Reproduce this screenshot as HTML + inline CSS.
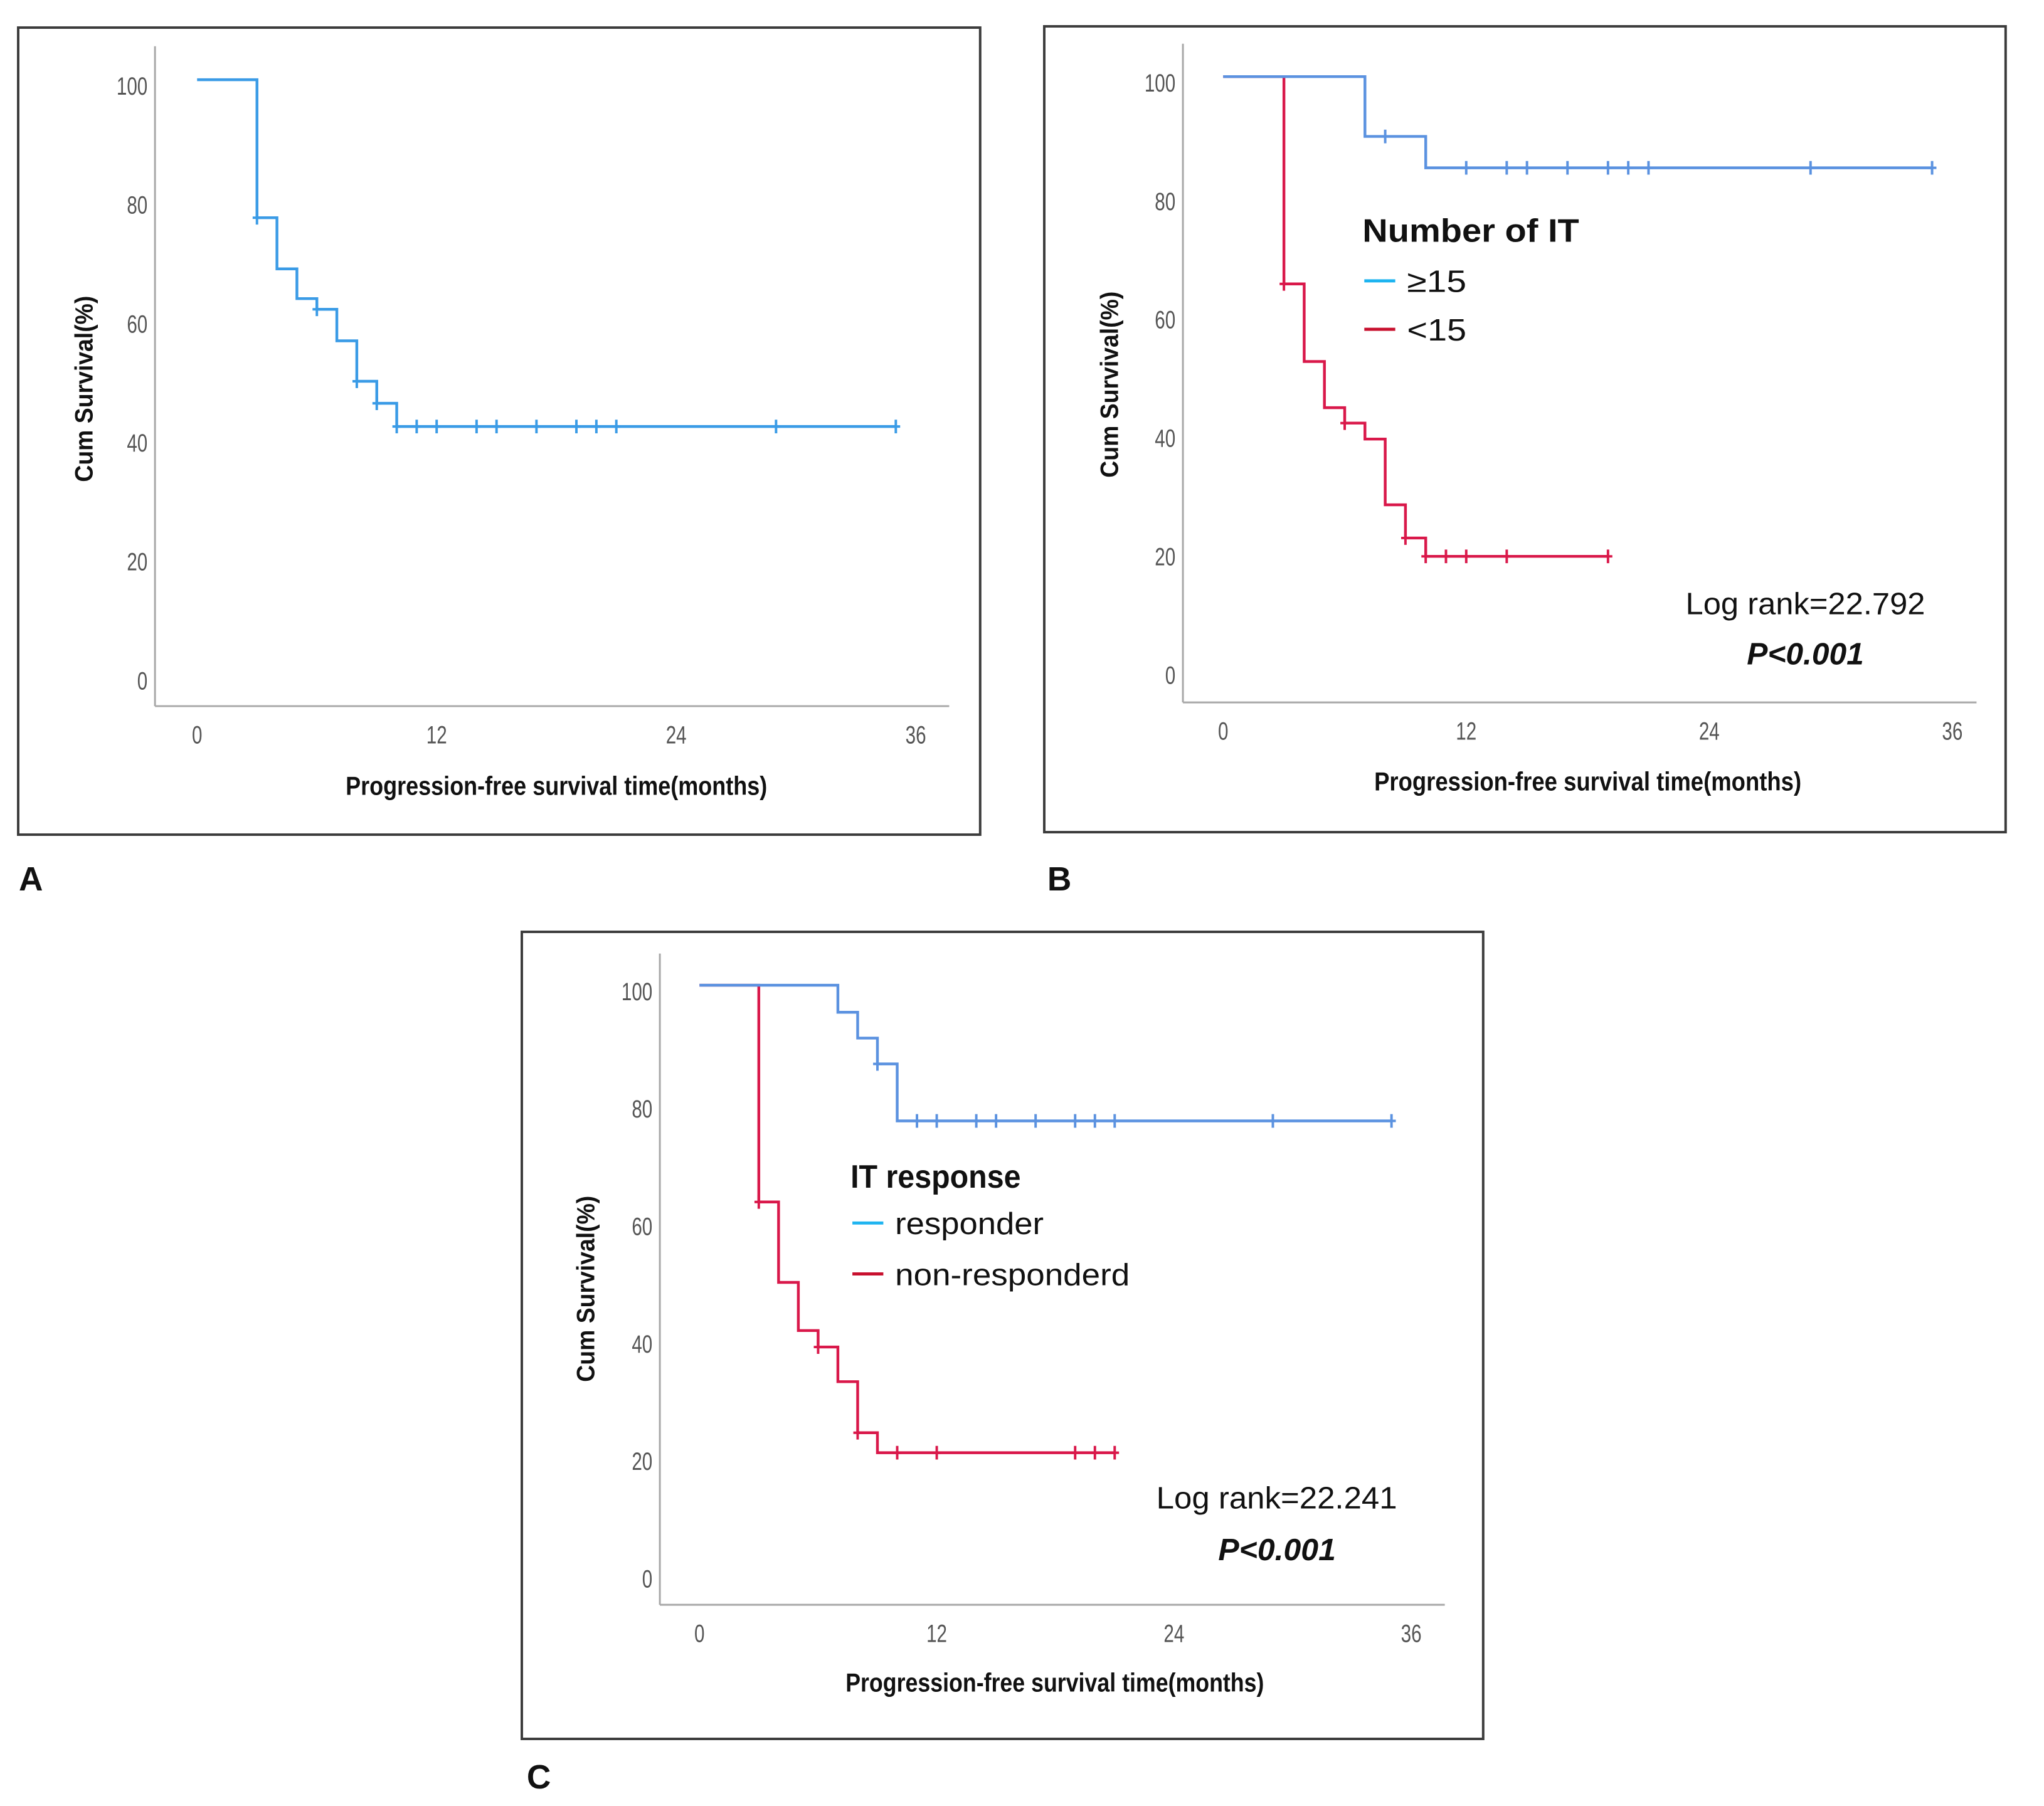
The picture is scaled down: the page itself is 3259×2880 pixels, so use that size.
<!DOCTYPE html>
<html><head><meta charset="utf-8">
<style>
html,body{margin:0;padding:0;background:#fff;}
svg{display:block;}
text{font-family:"Liberation Sans",sans-serif;}
</style></head>
<body>
<svg id="fig" width="3259" height="2880" viewBox="0 0 3259 2880" xmlns="http://www.w3.org/2000/svg"></svg>
<script>
// ---------- DATA ----------
const xTicks = [0, 12, 24, 36];
const yTicks = [0, 20, 40, 60, 80, 100];

// Panel A: overall
const aTimes = [0, 3, 4, 5, 6, 7, 8, 9, 10];
const aSurv  = [100, 76.8, 68.2, 63.2, 61.4, 56.1, 49.3, 45.6, 41.7];
const aCens  = [3, 6, 8, 9, 10, 11, 12, 14, 15, 17, 19, 20, 21, 29, 35];

// Panel B: Number of IT
const bHighTimes = [0, 7, 10];
const bHighSurv  = [100, 89.9, 84.6];
const bHighCens  = [8, 12, 14, 15, 17, 19, 20, 21, 29, 35];
const bLowTimes  = [0, 3, 4, 5, 6, 7, 8, 9, 10];
const bLowSurv   = [100, 65, 51.9, 44.1, 41.5, 38.8, 27.7, 22.1, 19];
const bLowCens   = [3, 6, 9, 10, 11, 12, 14, 19];

// Panel C: IT response
const cRespTimes = [0, 7, 8, 9, 10];
const cRespSurv  = [100, 95.4, 91, 86.6, 76.9];
const cRespCens  = [9, 11, 12, 14, 15, 17, 19, 20, 21, 29, 35];
const cNonTimes  = [0, 3, 4, 5, 6, 7, 8, 9];
const cNonSurv   = [100, 63.1, 49.4, 41.2, 38.4, 32.5, 23.8, 20.4];
const cNonCens   = [3, 6, 8, 10, 12, 19, 20, 21];

// ---------- DRAWING ----------
const NS = "http://www.w3.org/2000/svg";
const svg = document.getElementById('fig');
function mk(tag, attrs, parent, txt) {
  const e = document.createElementNS(NS, tag);
  for (const k in attrs) e.setAttribute(k, attrs[k]);
  if (txt !== undefined) e.textContent = txt;
  (parent || svg).appendChild(e);
  return e;
}
function survAt(times, surv, t) {
  let v = surv[0];
  for (let i = 0; i < times.length; i++) if (times[i] <= t) v = surv[i];
  return v;
}

function panel(p) {
  const g = mk('g', {transform: `translate(${p.fx},${p.fy}) scale(0.987,0.99) translate(${-p.fx},${-p.fy})`});
  
  
  const fr = mk('rect', {x: p.fx, y: p.fy, width: p.fw, height: p.fh, fill: 'none', stroke: '#3c3c3c', 'stroke-width': 4}, g);
  
  
  const X = t => p.x0 + t * p.xs;
  const Y = v => p.y100 + (100 - v) * p.ys;
  const ay = mk('line', {x1: p.ax, y1: p.atop, x2: p.ax, y2: p.axy, stroke: '#a8a8a8', 'stroke-width': 3}, g);
  
  
  const ax = mk('line', {x1: p.ax, y1: p.axy, x2: p.aright, y2: p.axy, stroke: '#a8a8a8', 'stroke-width': 3}, g);
  
  
  yTicks.forEach(v => {
    const t = mk('text', {x: p.ax - 12, y: Y(v) + 24, 'font-size': 40, fill: '#555', 'text-anchor': 'end', transform: `translate(${p.ax - 12},0) scale(0.75,1) translate(${-(p.ax - 12)},0)`}, g, String(v));
    
    
  });
  xTicks.forEach(v => {
    const t = mk('text', {x: X(v), y: p.axy + 60, 'font-size': 40, fill: '#555', 'text-anchor': 'middle', transform: `translate(${X(v)},0) scale(0.75,1) translate(${-X(v)},0)`}, g, String(v));
    
    
  });
  const xt = mk('text', {x: p.xtx, y: p.xty + 15, 'font-size': 42, 'font-weight': 'bold', fill: '#111', textLength: p.xtw, lengthAdjust: 'spacingAndGlyphs'}, g, 'Progression-free survival time(months)');
  
  
  const yt = mk('text', {x: 0, y: 0, 'font-size': 40, 'font-weight': 'bold', fill: '#111', 'text-anchor': 'middle', textLength: 300, lengthAdjust: 'spacingAndGlyphs', transform: `translate(${p.ytx + 14},${p.yty}) rotate(-90)`}, g, 'Cum Survival(%)');
  
  
  p.series.forEach(s => {
    let d = `M${X(s.times[0])},${Y(s.surv[0])}`;
    for (let i = 1; i < s.times.length; i++) {
      d += ` H${X(s.times[i])} V${Y(s.surv[i])}`;
    }
    d += ` H${X(s.end)}`;
    const path = mk('path', {d: d, fill: 'none', stroke: s.color, 'stroke-width': 4.5}, g);
    
    
    s.cens.forEach(t => {
      const cx = X(t), cy = Y(survAt(s.times, s.surv, t));
      const c = mk('path', {d: `M${cx},${cy - 11} V${cy + 11} M${cx - 7},${cy} H${cx + 7}`, stroke: s.color, 'stroke-width': 4, fill: 'none'}, g);
      
      
    });
  });
  if (p.legend) {
    const L = p.legend;
    const lt = mk('text', {x: L.x, y: L.ty + 18, 'font-size': 52, 'font-weight': 'bold', fill: '#111', textLength: L.tw, lengthAdjust: 'spacingAndGlyphs'}, g, L.title);
    
    
    L.items.forEach(it => {
      const ln = mk('line', {x1: L.x + 3, y1: it.y, x2: L.x + 53, y2: it.y, stroke: it.color, 'stroke-width': 5}, g);
      
      
      const tx = mk('text', {x: L.x + 72, y: it.y + 18, 'font-size': 50, fill: '#111', textLength: it.w, lengthAdjust: 'spacingAndGlyphs'}, g, it.label);
      
      
    });
    const lr = mk('text', {x: L.lrx, y: L.lry + 18, 'font-size': 50, fill: '#111', textLength: L.lrw, lengthAdjust: 'spacingAndGlyphs'}, g, L.lr);
    
    
    const pv = mk('text', {x: L.px, y: L.py + 18, 'font-size': 50, 'font-weight': 'bold', 'font-style': 'italic', fill: '#111', textLength: L.pw, lengthAdjust: 'spacingAndGlyphs'}, g, 'P<0.001');
    
    
  }
  const pl = mk('text', {x: p.lx, y: p.ly + 20, 'font-size': 54, 'font-weight': 'bold', fill: '#111'}, g, p.id);
  
  
}

panel({id: 'A', fx: 29, fy: 44, fw: 1554, fh: 1300,
  ax: 250, atop: 74, axy: 1137, aright: 1533,
  x0: 318, xs: 32.25, y100: 128, ys: 9.58,
  xtx: 558, xty: 1265, xtw: 681, ytx: 135, yty: 626, lx: 30, ly: 1414,
  series: [{name: 'overall', times: aTimes, surv: aSurv, cens: aCens, end: 35, color: '#3a9be6'}]});

panel({id: 'B', fx: 1665, fy: 42, fw: 1553, fh: 1298,
  ax: 1889, atop: 70, axy: 1131, aright: 3171,
  x0: 1954, xs: 32.72, y100: 123, ys: 9.54,
  xtx: 2198, xty: 1258, xtw: 690, ytx: 1770, yty: 619, lx: 1670, ly: 1414,
  series: [{name: 'it-lt15', times: bLowTimes, surv: bLowSurv, cens: bLowCens, end: 19, color: '#d9184a'},
           {name: 'it-ge15', times: bHighTimes, surv: bHighSurv, cens: bHighCens, end: 35, color: '#5b92e0'}],
  legend: {x: 2179, ty: 371, tw: 350, title: 'Number of IT',
    items: [{y: 452, color: '#1eb4f0', label: '≥15', w: 96}, {y: 530, color: '#c8102e', label: '<15', w: 96}],
    lr: 'Log rank=22.792', lrx: 2701, lry: 971, lrw: 387, px: 2800, py: 1052, pw: 189}});

panel({id: 'C', fx: 832, fy: 1486, fw: 1553, fh: 1300,
  ax: 1055, atop: 1521, axy: 2570, aright: 2323,
  x0: 1119, xs: 31.94, y100: 1572, ys: 9.46,
  xtx: 1355, xty: 2695, xtw: 676, ytx: 935, yty: 2061, lx: 840, ly: 2846,
  series: [{name: 'non-responder', times: cNonTimes, surv: cNonSurv, cens: cNonCens, end: 21, color: '#d9184a'},
           {name: 'responder', times: cRespTimes, surv: cRespSurv, cens: cRespCens, end: 35, color: '#5b92e0'}],
  legend: {x: 1363, ty: 1880, tw: 275, title: 'IT response',
    items: [{y: 1955, color: '#1eb4f0', label: 'responder', w: 240}, {y: 2037, color: '#c8102e', label: 'non-responderd', w: 379}],
    lr: 'Log rank=22.241', lrx: 1857, lry: 2397, lrw: 389, px: 1957, py: 2480, pw: 190}});
</script>
</body></html>
